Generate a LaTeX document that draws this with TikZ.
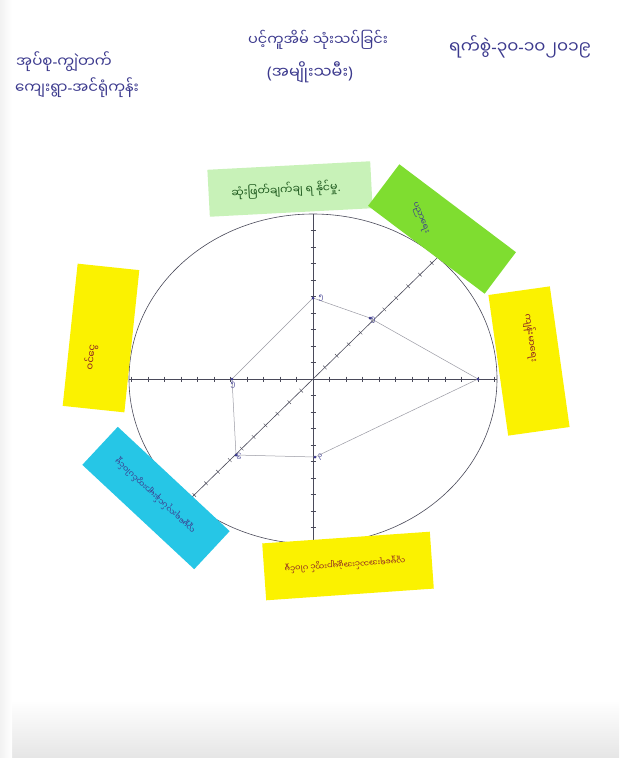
\documentclass[tikz,border=0pt]{standalone}
\usepackage{fontspec}
\usetikzlibrary{calc}
\newfontfamily\mya[Script=Myanmar]{Noto Sans Myanmar UI}
\newfontfamily\lat{Noto Sans}
\definecolor{ink}{HTML}{3C3A8E}
\definecolor{lgreen}{HTML}{C8F2B8}
\definecolor{bgreen}{HTML}{7FDD30}
\definecolor{nyellow}{HTML}{FBF200}
\definecolor{ncyan}{HTML}{26C6E6}
\definecolor{dgreen}{HTML}{1E5A1E}
\definecolor{redink}{HTML}{8E2424}
\definecolor{axis}{HTML}{4A4A5A}
\definecolor{poly}{HTML}{9A9AA4}
\begin{document}
\begin{tikzpicture}[x=1pt,y=1pt,
  notebox/.style={draw=none, inner sep=0pt},
  lbl/.style={inner sep=0pt, font=\mya\fontsize{9}{10}\selectfont},
  head/.style={inner sep=0pt, text=ink, font=\mya\fontsize{15}{17}\selectfont},
  axisline/.style={draw=axis, line width=0.6pt},
  polyline/.style={draw=poly, line width=0.5pt},
  tick/.style={draw=axis, line width=0.4pt},
  dot/.style={circle, fill=ink, inner sep=0pt, minimum size=3pt},
  num/.style={inner sep=0pt, text=ink, font=\mya\fontsize{7}{8}\selectfont}]
\useasboundingbox (0,0) rectangle (619,-758);
\fill[white] (0,0) rectangle (619,-758);
\shade[top color=white, bottom color=black!10] (0,-700) rectangle (619,-758);
\shade[left color=black!5, right color=white] (0,0) rectangle (12,-758);

% headers
\node[head] (h1) at (64,-62) {အုပ်စု{\lat -}ကျွဲတက်};
\node[head] (h2) at (77,-88) {ကျေးရွာ{\lat -}အင်ရုံကုန်း};
\node[head, font=\mya\fontsize{14.5}{16}\selectfont] (h3) at (318,-40) {ပင့်ကူအိမ် သုံးသပ်ခြင်း};
\node[head, font=\mya\fontsize{16}{18}\selectfont] (h4) at (310,-72) {{\lat (}အမျိုးသမီး{\lat )}};
\node[head, font=\mya\fontsize{17}{19}\selectfont] (h5) at (520,-47) {ရက်စွဲ{\lat -}၃၀{\lat -}၁၀၂၀၁၉};

% circle and axes
\coordinate (c) at (313,-379);
\draw[axisline] (c) ellipse [x radius=184, y radius=165];
\coordinate (aL) at (129,-379);
\coordinate (aR) at (497,-379);
\coordinate (aT) at (313,-214);
\coordinate (aB) at (313,-544);
\coordinate (dUR) at ($(c)+(44.3:174)$);
\coordinate (dLL) at ($(c)+(224.3:174)$);
\draw[axisline] (aL) -- (aR);
\draw[axisline] (aT) -- (aB);
\draw[axisline] (dLL) -- (dUR);

% ticks
\foreach \r in {16.5,33,...,182} {
  \draw[tick] (313+\r,-376.5) -- (313+\r,-381.5);
  \draw[tick] (313-\r,-376.5) -- (313-\r,-381.5);
}
\foreach \r in {16.5,33,...,163} {
  \draw[tick] (310.5,-379+\r) -- (315.5,-379+\r);
  \draw[tick] (310.5,-379-\r) -- (315.5,-379-\r);
}
\begin{scope}[shift={(313,-379)}, rotate=44.3]
\foreach \r in {16.6,33.2,...,170} {
  \draw[tick] (\r,-2.5) -- (\r,2.5);
  \draw[tick] (-\r,-2.5) -- (-\r,2.5);
}
\end{scope}

% data polygon
\coordinate (pT) at (313,-298);
\coordinate (pUR) at (370,-318);
\coordinate (pR) at (478,-379);
\coordinate (pB) at (315,-457);
\coordinate (pLL) at (236,-455);
\coordinate (pL) at (232,-379);
\draw[polyline] (pT) -- (pUR) -- (pR) -- (pB) -- (pLL) -- (pL) -- cycle;
\foreach \p in {pT,pUR,pR,pB,pLL,pL} \node[dot] at (\p) {};
\node[num] (vT) at (321,-298) {၅};
\node[num] (vUR) at (373,-320) {၅};
\node[num] (vL) at (233,-385) {၅};
\node[num] (vLL) at (239,-457) {၆};
\node[num] (vB) at (320,-457) {၃};

% notes (stuck on top of the drawing)
\node[notebox, fill=lgreen, minimum width=163pt, minimum height=47pt, rotate=3] (n1) at (290,-189) {};
\node[notebox, fill=bgreen, minimum width=146pt, minimum height=52pt, rotate=-37] (n2) at (442,-229) {};
\node[notebox, fill=nyellow, minimum width=62pt, minimum height=142pt, rotate=8] (n3) at (529,-361) {};
\node[notebox, fill=nyellow, minimum width=168pt, minimum height=57pt, rotate=4] (n4) at (348,-566) {};
\node[notebox, fill=ncyan, minimum width=153pt, minimum height=52pt, rotate=-43] (n5) at (156,-498) {};
\node[notebox, fill=nyellow, minimum width=62pt, minimum height=143pt, rotate=-6] (n6) at (101,-338) {};

% note texts
\node[lbl, text=dgreen, rotate=3, font=\mya\fontsize{11}{12}\selectfont] (t1) at (286,-190) {ဆုံးဖြတ်ချက်ချ ရ နိုင်မှု{\lat .}};
\node[lbl, text=ink, rotate=-68, font=\mya\fontsize{8.5}{10}\selectfont] (t2) at (420,-218) {ပညာရေး};
\node[lbl, text=redink, rotate=-82, font=\mya\fontsize{9.5}{10}\selectfont] (t3) at (531,-338) {ကျန်းမာရေး};
\node[lbl, text=redink, rotate=184, font=\mya\fontsize{8}{9}\selectfont] (t4) at (345,-565) {လူမှုရေးအသင်းအဖွဲ့များတွင် ပါဝင်မှု};
\node[lbl, text=ink, rotate=137, font=\mya\fontsize{8}{9}\selectfont] (t5) at (155,-496) {လူမှုရေးလုပ်ငန်းများတွင်ပါဝင်မှု};
\node[lbl, text=redink, rotate=84, font=\mya\fontsize{10}{11}\selectfont] (t6) at (91,-357) {ဝင်ငွေ};
\end{tikzpicture}
\end{document}
